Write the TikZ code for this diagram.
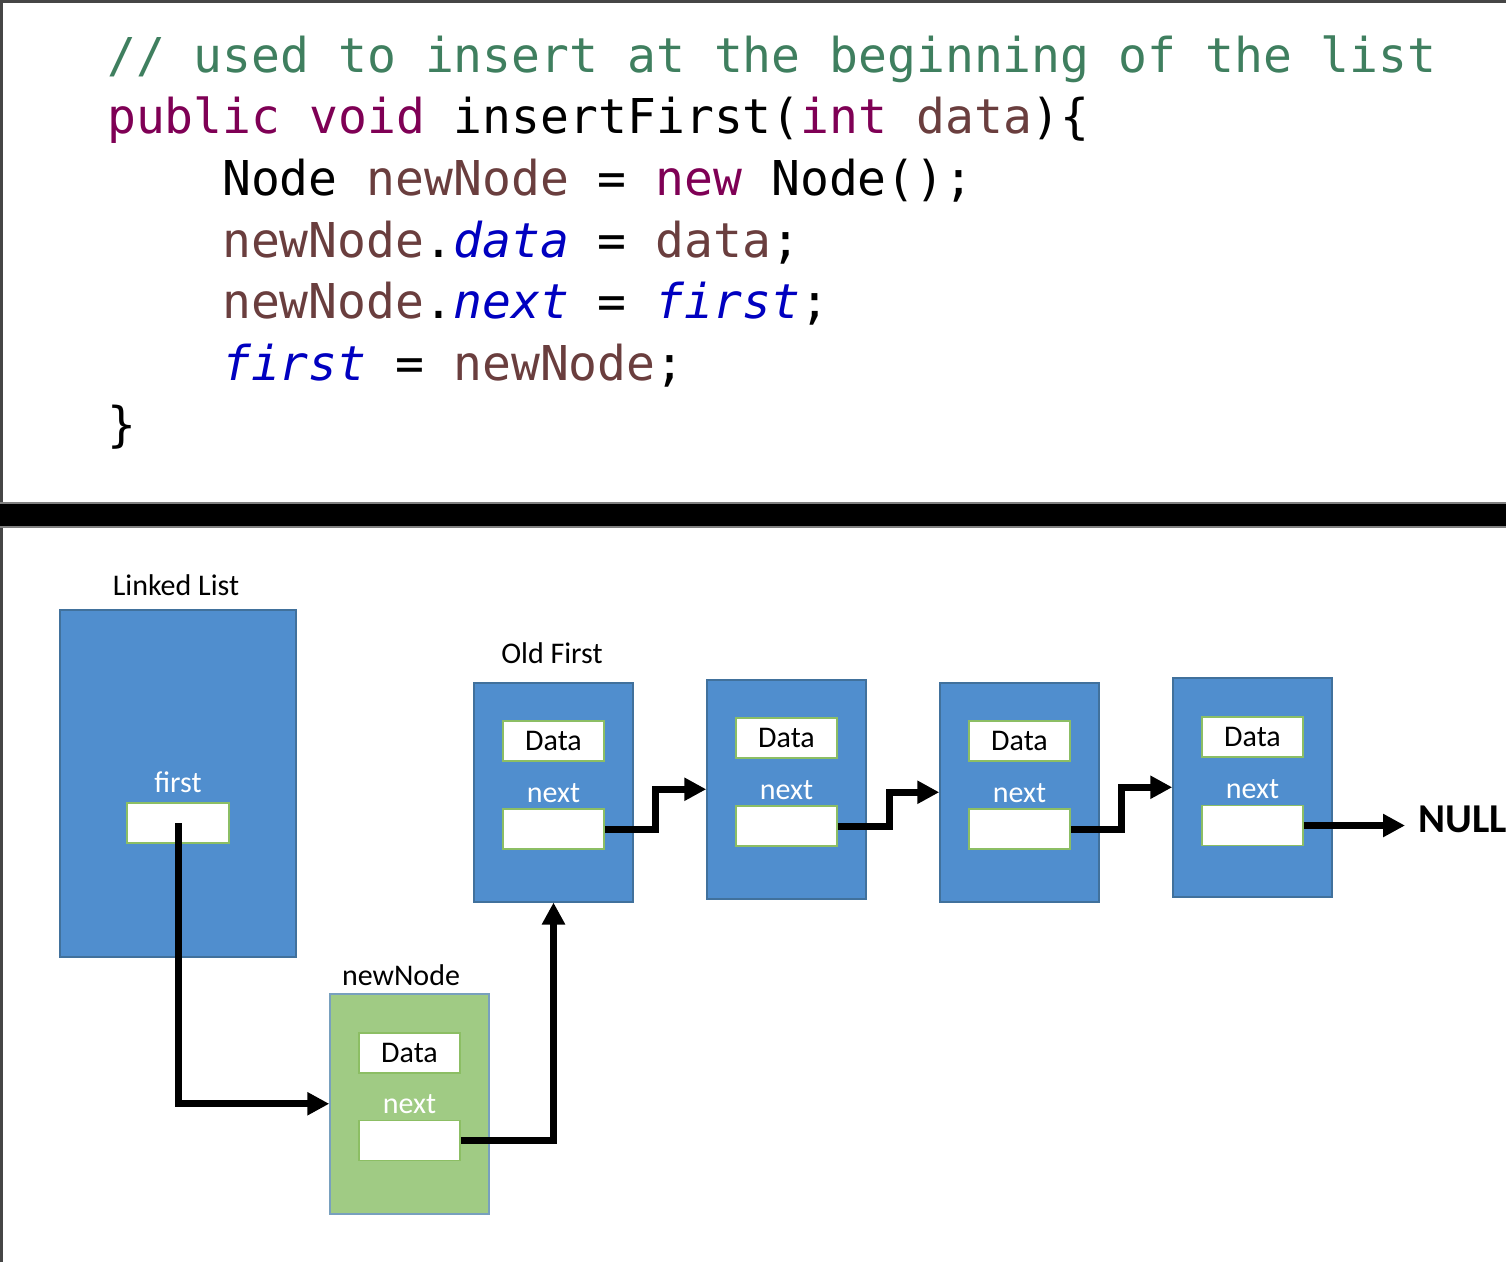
\documentclass[tikz,border=0pt]{standalone}
\usepackage{fontspec}
\setmainfont{Carlito}
\newfontfamily\codefont{DejaVu Sans Mono}
\usetikzlibrary{arrows.meta}
\definecolor{cmt}{HTML}{3F7F5F}
\definecolor{kw}{HTML}{7F0055}
\definecolor{loc}{HTML}{6A3E3E}
\definecolor{fld}{HTML}{0000C0}
\definecolor{nodeblue}{RGB}{80,142,206}
\definecolor{blueedge}{RGB}{65,113,156}
\definecolor{nodegreen}{RGB}{160,203,132}
\definecolor{greenedge}{RGB}{120,160,190}
\definecolor{fieldedge}{RGB}{140,190,100}
\definecolor{frame}{RGB}{70,70,70}
\tikzset{
  code/.style={anchor=base west, inner sep=0pt, font=\codefont\fontsize{48}{48}\selectfont},
  bnode/.style={draw=blueedge, line width=1.5pt, fill=nodeblue, anchor=north, inner sep=0pt, minimum width=159pt, minimum height=219pt},
  gnode/.style={bnode, fill=nodegreen, draw=greenedge},
  field/.style={draw=fieldedge, line width=1.5pt, fill=white, inner sep=0pt, minimum width=101pt, minimum height=40pt, font=\fontsize{30}{30}\selectfont},
  lbl/.style={anchor=base, inner sep=0pt, font=\fontsize{30}{30}\selectfont},
  wlbl/.style={lbl, text=white},
  arr/.style={line width=7pt, line join=miter, -{Triangle[length=22pt,width=22pt]}}
}
\begin{document}
\begin{tikzpicture}[x=1pt,y=-1pt]
\useasboundingbox (0,0) rectangle (1506,1262);
\fill[white] (0,0) rectangle (1506,1262);
% frame and separator
\draw[frame, line width=2.5pt] (1.25,1262) -- (1.25,1.25) -- (1506,1.25);
\fill[black] (0,503) rectangle (1506,527);
\draw[gray, line width=1.5pt] (0,503) -- (1506,503) (0,527) -- (1506,527);
% code
\node[code] (c1) at (107,72) {\textcolor{cmt}{// used to insert at the beginning of the list}};
\node[code] (c2) at (107,133) {\textcolor{kw}{public void} insertFirst(\textcolor{kw}{int} \textcolor{loc}{data})\{};
\node[code] (c3) at (222,195) {Node \textcolor{loc}{newNode} = \textcolor{kw}{new} Node();};
\node[code] (c4) at (222,257) {\textcolor{loc}{newNode}.\textcolor{fld}{\itshape data} = \textcolor{loc}{data};};
\node[code] (c5) at (222,318) {\textcolor{loc}{newNode}.\textcolor{fld}{\itshape next} = \textcolor{fld}{\itshape first};};
\node[code] (c6) at (222,380) {\textcolor{fld}{\itshape first} = \textcolor{loc}{newNode};};
\node[code] (c7) at (107,441) {\}};
% linked list
\node[lbl] (llt) at (176,595) {Linked List};
\node[bnode, minimum width=236pt, minimum height=347pt] (ll) at (178,609) {};
\node[wlbl] (flbl) at (178,792) {first};
\node[field, minimum width=102pt] (fbox) at (178,823) {};
% old first
\node[lbl] (oft) at (552,663) {Old First};
\node[bnode] (b1) at (553.5,682) {};
\node[field] (d1) at (553.5,741) {Data};
\node[wlbl] (x1) at (553.5,802) {next};
\node[field] (n1) at (553.5,829) {};
% node 2
\node[bnode] (b2) at (786.5,679) {};
\node[field] (d2) at (786.5,738) {Data};
\node[wlbl] (x2) at (786.5,799) {next};
\node[field] (n2) at (786.5,826) {};
% node 3
\node[bnode] (b3) at (1019.5,682) {};
\node[field] (d3) at (1019.5,741) {Data};
\node[wlbl] (x3) at (1019.5,802) {next};
\node[field] (n3) at (1019.5,829) {};
% node 4
\node[bnode] (b4) at (1252.5,677) {};
\node[field] (d4) at (1252.5,737) {Data};
\node[wlbl] (x4) at (1252.5,798) {next};
\node[field] (n4) at (1252.5,825.5) {};
% new node
\node[lbl] (nnt) at (401,985) {newNode};
\node[gnode, minimum height=220pt] (nn) at (409.5,993) {};
\node[field] (dn) at (409.5,1053) {Data};
\node[wlbl] (xn) at (409.5,1113) {next};
\node[field] (nnx) at (409.5,1140.5) {};
% NULL
\node[anchor=base west, inner sep=0pt, font=\bfseries\fontsize{41}{41}\selectfont] (null) at (1418,832) {NULL};
% connectors
\draw[arr] (fbox.center) |- (nn.west);
\draw[arr] (nnx.east) -| (b1.south);
\draw[arr] (n1.east) -- ++(51,0) |- (b2.west);
\draw[arr] (n2.east) -- ++(52,0) |- (b3.west);
\draw[arr] (n3.east) -- ++(51,0) |- (b4.west);
\draw[arr, shorten >=13pt] (n4.east) -- (n4.east -| null.west);
\end{tikzpicture}
\end{document}
